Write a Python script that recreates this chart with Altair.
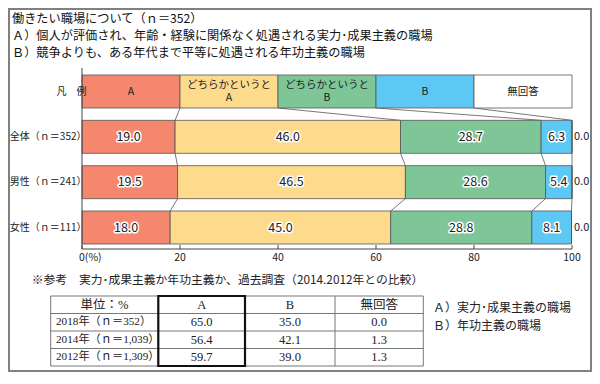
import altair as alt
import pandas as pd
import numpy as np

# ---------------- data ----------------
title_lines = [
    "働きたい職場について（ｎ＝352）",
    "Ａ）個人が評価され、年齢・経験に関係なく処遇される実力･成果主義の職場",
    "Ｂ）競争よりも、ある年代まで平等に処遇される年功主義の職場",
]
legend_label = "凡　例"
categories = ["A", "どちらかというとA", "どちらかというとB", "B", "無回答"]
legend_texts = ["A", "どちらかというと\nA", "どちらかというと\nB", "B", "無回答"]
legend_shares = [20, 20, 20, 20, 20]
groups = ["全体（ｎ＝352）", "男性（ｎ＝241）", "女性（ｎ＝111）"]
zentai = [19.0, 46.0, 28.7, 6.3, 0.0]
dansei = [19.5, 46.5, 28.6, 5.4, 0.0]
josei = [18.0, 45.0, 28.8, 8.1, 0.0]
ticks = [0, 20, 40, 60, 80, 100]
tick_labels = ["0(%)", "20", "40", "60", "80", "100"]

note = "※参考　実力･成果主義か年功主義か、過去調査（2014.2012年との比較）"
table_header = ["単位：%", "A", "B", "無回答"]
table_rows = ["2018年（ｎ＝352）", "2014年（ｎ＝1,039）", "2012年（ｎ＝1,309）"]
table_a = [65.0, 56.4, 59.7]
table_b = [35.0, 42.1, 39.0]
table_na = [0.0, 1.3, 1.3]
side_notes = ["Ａ）実力･成果主義の職場", "Ｂ）年功主義の職場"]

# ---------------- style / layout ----------------
colors = ["#F5876F", "#FDDA8C", "#7EC697", "#5DC8F3", "#FFFFFF"]
JP = "Noto Sans CJK JP"
SERIF = "Liberation Serif, Noto Sans CJK JP"
W, H = 584, 364
BH = 0.728      # bar thickness in row units
LINE_OFF = 0.15  # half line spacing of two-line legend labels, row units

PX = alt.Scale(domain=[0, W], range=[0, W], zero=False, nice=False)
PY = alt.Scale(domain=[0, H], range=[0, H], zero=False, nice=False)
XS = alt.Scale(domain=[0, 100], range=[74, 564], zero=False, nice=False)
YS = alt.Scale(domain=[0, 3], range=[83.5, 219.5], zero=False, nice=False)

title_y = [11, 28, 45]
col_edges = [42.7, 150.3, 237, 327, 415.3]
row_edges = [288, 305.5, 323, 340.5, 358]
side_y = [300, 318]

# ---------------- derived tables ----------------
row_names = [legend_label] + groups
row_vals = [legend_shares, zentai, dansei, josei]
recs = []
for i, (name, vals) in enumerate(zip(row_names, row_vals)):
    c = 0.0
    for cat, v in zip(categories, vals):
        recs.append(dict(row=name, i=i, cat=cat, v=v, x0=c, x1=c + v,
                         mid=c + v / 2, y0=i - BH / 2, y1=i + BH / 2,
                         lab=f"{v:.1f}"))
        c += v
bar_df = pd.DataFrame(recs)
val_df = bar_df[(bar_df.i > 0) & (bar_df.v > 0)]
na_df = bar_df[(bar_df.i > 0) & (bar_df.cat == "無回答")].assign(end=100)

leg_recs = []
leg_starts = np.cumsum([0] + legend_shares[:-1])
for t, c, s in zip(legend_texts, leg_starts, legend_shares):
    parts = t.split("\n")
    n = len(parts)
    for k, p in enumerate(parts):
        off = 0.0 if n == 1 else (-LINE_OFF if k == 0 else LINE_OFF)
        leg_recs.append(dict(t=p, mid=c + s / 2, y=off))
leg_df = pd.DataFrame(leg_recs)
rowlab_df = pd.DataFrame({"t": row_names, "i": list(range(4))})

cums = [np.cumsum(v) for v in row_vals]
conn = []
for i in range(3):
    for k in range(4):
        conn.append(dict(xa=float(cums[i][k]), xb=float(cums[i + 1][k]),
                         ya=i + BH / 2, yb=i + 1 - BH / 2))
conn_df = pd.DataFrame(conn)

tick_df = pd.DataFrame({"v": ticks, "t": tick_labels})

# ---------------- layers ----------------
frame = alt.Chart(pd.DataFrame({"a": [0]})).mark_rect(
    fillOpacity=0, stroke="#808080", strokeWidth=2
).encode(x=alt.value(1), x2=alt.value(W - 1), y=alt.value(1), y2=alt.value(H - 1))

title = alt.Chart(pd.DataFrame({"t": title_lines, "y": title_y})).mark_text(
    align="left", baseline="middle", font=JP, fontSize=12.2, color="#111"
).encode(x=alt.value(4), y=alt.Y("y:Q", scale=PY, axis=None), text="t:N")

bars = alt.Chart(bar_df).mark_rect(stroke="#555", strokeWidth=0.8).encode(
    x=alt.X("x0:Q", scale=XS, axis=None), x2="x1:Q",
    y=alt.Y("y0:Q", scale=YS, axis=None), y2="y1:Q",
    color=alt.Color("cat:N", scale=alt.Scale(domain=categories, range=colors), legend=None),
)

connectors = alt.Chart(conn_df).mark_rule(color="#555", strokeWidth=0.8).encode(
    x=alt.X("xa:Q", scale=XS, axis=None), x2="xb:Q",
    y=alt.Y("ya:Q", scale=YS, axis=None), y2="yb:Q",
)

axis_h = alt.Chart(pd.DataFrame({"a": [0], "b": [100]})).mark_rule(color="#444", strokeWidth=1).encode(
    x=alt.X("a:Q", scale=XS, axis=None), x2="b:Q", y=alt.value(241)
)
axis_v = alt.Chart(pd.DataFrame({"a": [0]})).mark_rule(color="#444", strokeWidth=1).encode(
    x=alt.X("a:Q", scale=XS, axis=None), y=alt.value(60), y2=alt.value(241)
)
tick_marks = alt.Chart(tick_df).mark_rule(color="#444", strokeWidth=1).encode(
    x=alt.X("v:Q", scale=XS, axis=None), y=alt.value(237), y2=alt.value(241)
)
tick_text0 = alt.Chart(tick_df[tick_df.v == 0]).mark_text(
    align="left", baseline="middle", dx=-3, font=JP, fontSize=10.5, color="#222"
).encode(x=alt.X("v:Q", scale=XS, axis=None), y=alt.value(250), text="t:N")
tick_text = alt.Chart(tick_df[tick_df.v > 0]).mark_text(
    align="center", baseline="middle", font=JP, fontSize=10.5, color="#222"
).encode(x=alt.X("v:Q", scale=XS, axis=None), y=alt.value(250), text="t:N")

val_halo = alt.Chart(val_df).mark_text(
    align="center", baseline="middle", font=JP, fontSize=12.5,
    stroke="white", strokeWidth=3, strokeJoin="round", color="white"
).encode(x=alt.X("mid:Q", scale=XS, axis=None), y=alt.Y("i:Q", scale=YS, axis=None), text="lab:N")
val_text = alt.Chart(val_df).mark_text(
    align="center", baseline="middle", font=JP, fontSize=12.5, color="#222"
).encode(x=alt.X("mid:Q", scale=XS, axis=None), y=alt.Y("i:Q", scale=YS, axis=None), text="lab:N")

na_text = alt.Chart(na_df).mark_text(
    align="left", baseline="middle", dx=2, font=JP, fontSize=11, color="#222"
).encode(x=alt.X("end:Q", scale=XS, axis=None), y=alt.Y("i:Q", scale=YS, axis=None), text="lab:N")

leg_text = alt.Chart(leg_df).mark_text(
    align="center", baseline="middle", font=JP, fontSize=10.5, color="#222"
).encode(x=alt.X("mid:Q", scale=XS, axis=None), y=alt.Y("y:Q", scale=YS, axis=None), text="t:N")

row_text = alt.Chart(rowlab_df).mark_text(
    align="right", baseline="middle", font=JP, fontSize=10, color="#222"
).encode(x=alt.value(78.5), y=alt.Y("i:Q", scale=YS, axis=None), text="t:N")

note_text = alt.Chart(pd.DataFrame({"t": [note]})).mark_text(
    align="left", baseline="middle", font=JP, fontSize=11.8, color="#222"
).encode(x=alt.value(23.7), y=alt.value(272), text="t:N")

side_text = alt.Chart(pd.DataFrame({"t": side_notes, "y": side_y})).mark_text(
    align="left", baseline="middle", font=JP, fontSize=12, color="#222"
).encode(x=alt.value(425), y=alt.Y("y:Q", scale=PY, axis=None), text="t:N")

# table grid
hlines = alt.Chart(pd.DataFrame({"y": row_edges, "a": col_edges[0], "b": col_edges[-1]})).mark_rule(
    color="#777", strokeWidth=1
).encode(x=alt.X("a:Q", scale=PX, axis=None), x2="b:Q", y=alt.Y("y:Q", scale=PY, axis=None))
vlines = alt.Chart(pd.DataFrame({"x": col_edges, "a": row_edges[0], "b": row_edges[-1]})).mark_rule(
    color="#777", strokeWidth=1
).encode(x=alt.X("x:Q", scale=PX, axis=None), y=alt.Y("a:Q", scale=PY, axis=None), y2="b:Q")
abox = alt.Chart(pd.DataFrame({"x": [col_edges[1]], "x2": [col_edges[2]],
                               "y": [row_edges[0]], "y2": [row_edges[-1]]})).mark_rect(
    fillOpacity=0, stroke="#111", strokeWidth=2.2
).encode(x=alt.X("x:Q", scale=PX, axis=None), x2="x2:Q",
         y=alt.Y("y:Q", scale=PY, axis=None), y2="y2:Q")

col_centers = [(a + b) / 2 for a, b in zip(col_edges[:-1], col_edges[1:])]
row_centers = [(a + b) / 2 for a, b in zip(row_edges[:-1], row_edges[1:])]
cells = []
for j, h in enumerate(table_header):
    cells.append(dict(t=h, x=col_centers[j], y=row_centers[0]))
for r, (lab, a, b, n) in enumerate(zip(table_rows, table_a, table_b, table_na)):
    for j, v in enumerate([a, b, n]):
        cells.append(dict(t=f"{v:.1f}", x=col_centers[j + 1], y=row_centers[r + 1]))
cell_df = pd.DataFrame(cells)
rowhead_df = pd.DataFrame({"t": table_rows, "y": row_centers[1:]})

cell_text = alt.Chart(cell_df).mark_text(
    align="center", baseline="middle", font=SERIF, fontSize=12.5, color="#222"
).encode(x=alt.X("x:Q", scale=PX, axis=None), y=alt.Y("y:Q", scale=PY, axis=None), text="t:N")
rowhead_text = alt.Chart(rowhead_df).mark_text(
    align="left", baseline="middle", font=SERIF, fontSize=11.2, color="#222"
).encode(x=alt.value(48), y=alt.Y("y:Q", scale=PY, axis=None), text="t:N")

chart = alt.layer(
    frame, title, connectors, bars, axis_v, axis_h, tick_marks, tick_text0, tick_text,
    val_halo, val_text, na_text, leg_text, row_text, note_text, side_text,
    hlines, vlines, abox, cell_text, rowhead_text,
).resolve_scale(x="independent", y="independent").properties(
    width=W, height=H, autosize=alt.AutoSizeParams(type="none"), padding=0, background="white"
).configure_view(stroke="transparent")

chart.save("out.html", embed_options={"renderer": "svg", "actions": False})
